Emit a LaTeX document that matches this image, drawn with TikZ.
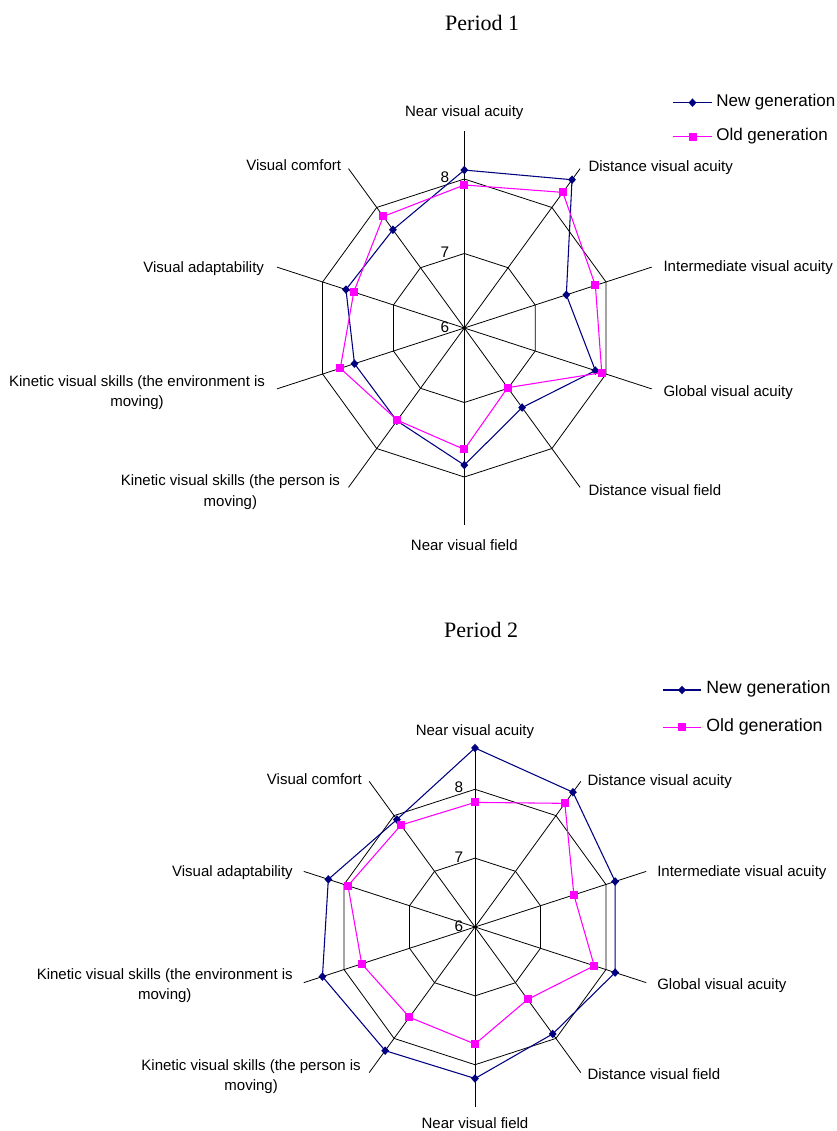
\documentclass[tikz,border=0pt]{standalone}
\usepackage{fontspec}
\setmainfont{Liberation Serif}
\setsansfont{Liberation Sans}
\usepackage{tikz}
\usetikzlibrary{shapes.geometric,calc}
\definecolor{navyblue}{RGB}{0,0,128}
\definecolor{oldmag}{RGB}{255,0,255}

\begin{document}
\begin{tikzpicture}[x=0.75pt,y=0.75pt,
    grid/.style={black, line width=0.6pt},
    newline/.style={navyblue, line width=0.8pt},
    oldline/.style={oldmag, line width=0.8pt},
    newmark/.style={diamond, fill=navyblue, inner sep=0pt, minimum width=6pt, minimum height=6.6pt},
    oldmark/.style={rectangle, fill=oldmag, inner sep=0pt, minimum size=6pt},
    axlabel/.style={font=\sffamily\fontsize{11.25}{15.5}\selectfont, align=center, inner sep=0pt},
    lowlabel/.style={axlabel, yshift=-2.25pt},
    ticklabel/.style={font=\sffamily\fontsize{11.5}{14}\selectfont, inner sep=0pt, anchor=east},
    charttitle/.style={font=\fontsize{16.5}{20}\selectfont, inner sep=0pt},
    legtext/.style={font=\sffamily\fontsize{12.75}{15}\selectfont, anchor=west, inner sep=0pt}]
    \useasboundingbox (0,0) rectangle (837,-1131);

    \node[charttitle] (title1) at (482.2,-22.5) {Period 1};
    \node[charttitle] (title2) at (481.2,-630) {Period 2};

    \coordinate (lga1) at (673,-102.7);
    \coordinate (lga2) at (712,-102.7);
    \coordinate (lga3) at (673,-136.7);
    \coordinate (lga4) at (712,-136.7);
    \draw[newline] (lga1) -- (lga2);
    \node[newmark] (lgman) at ($(lga1)!0.5!(lga2)$) {};
    \node[legtext] (lgatxt1) at (716,-102) {New generation};
    \draw[oldline] (lga3) -- (lga4);
    \node[oldmark] (lgamo) at ($(lga3)!0.5!(lga4)$) {};
    \node[legtext] (lgatxt2) at (716,-136) {Old generation};

    \coordinate (lgb1) at (663,-690);
    \coordinate (lgb2) at (701,-690);
    \coordinate (lgb3) at (663,-727.3);
    \coordinate (lgb4) at (701,-727.3);
    \draw[newline] (lgb1) -- (lgb2);
    \node[newmark] (lgbmn) at ($(lgb1)!0.5!(lgb2)$) {};
    \node[legtext, font=\sffamily\fontsize{13.3}{15}\selectfont] (lgbtxt1) at (706,-689) {New generation};
    \draw[oldline] (lgb3) -- (lgb4);
    \node[oldmark] (lgbmo) at ($(lgb3)!0.5!(lgb4)$) {};
    \node[legtext, font=\sffamily\fontsize{13.3}{15}\selectfont] (lgbtxt2) at (706,-726.5) {Old generation};

    \begin{scope}[shift={(464.3,-328)}]
        \foreach \k in {0,...,9} \draw[grid] (0,0) -- ({90-36*\k}:197);
        \foreach \r in {74.5,149} \draw[grid] (90:\r) \foreach \k in {1,...,9} {-- ({90-36*\k}:\r)} -- cycle;
        \node[ticklabel] (ta6) at (-15,0.5) {6};
        \node[ticklabel] (ta7) at (-15,76) {7};
        \node[ticklabel] (ta8) at (-15,151) {8};
        \node[lowlabel] (la0) at (0,218) {Near visual acuity};
        \node[lowlabel, anchor=west] (la1) at (124,163) {Distance visual acuity};
        \node[lowlabel, anchor=west] (la2) at (199,63) {Intermediate visual acuity};
        \node[lowlabel, anchor=west] (la3) at (199,-62) {Global visual acuity};
        \node[axlabel, anchor=west] (la4) at (124,-162) {Distance visual field};
        \node[axlabel] (la5) at (0,-217) {Near visual field};
        \node[lowlabel, anchor=east] (la6) at (-124,-161) {Kinetic visual skills (the person is\\moving)};
        \node[lowlabel, anchor=east] (la7) at (-199,-61.5) {Kinetic visual skills (the environment is\\moving)};
        \node[lowlabel, anchor=east] (la8) at (-200,62) {Visual adaptability};
        \node[axlabel, anchor=east] (la9) at (-123,163) {Visual comfort};
        \foreach \v [count=\k from 0] in {8.12,8.46,7.44,7.85,7.32,7.84,7.54,7.55,7.67,7.63}
            \coordinate (an\k) at ({90-36*\k}:{(\v-6)*74.5});
        \foreach \v [count=\k from 0] in {7.92,8.25,7.85,7.94,6.99,7.63,7.53,7.75,7.56,7.85}
            \coordinate (ao\k) at ({90-36*\k}:{(\v-6)*74.5});
        \draw[newline] (an0) \foreach \k in {1,...,9} {-- (an\k)} -- cycle;
        \foreach \k in {0,...,9} \node[newmark] (man\k) at (an\k) {};
        \draw[oldline] (ao0) \foreach \k in {1,...,9} {-- (ao\k)} -- cycle;
        \foreach \k in {0,...,9} \node[oldmark] (mao\k) at (ao\k) {};
    \end{scope}

    \begin{scope}[shift={(475,-927)}]
        \foreach \k in {0,...,9} \draw[grid] (0,0) -- ({90-36*\k}:180);
        \foreach \r in {68.85,137.7} \draw[grid] (90:\r) \foreach \k in {1,...,9} {-- ({90-36*\k}:\r)} -- cycle;
        \node[ticklabel] (tb6) at (-11.5,1) {6};
        \node[ticklabel] (tb7) at (-11.5,69.5) {7};
        \node[ticklabel] (tb8) at (-11.5,140) {8};
        \node[lowlabel] (lb0) at (0,198.7) {Near visual acuity};
        \node[lowlabel, anchor=west] (lb1) at (112.3,148) {Distance visual acuity};
        \node[lowlabel, anchor=west] (lb2) at (182,57) {Intermediate visual acuity};
        \node[lowlabel, anchor=west] (lb3) at (182,-56) {Global visual acuity};
        \node[axlabel, anchor=west] (lb4) at (112.3,-147) {Distance visual field};
        \node[axlabel] (lb5) at (0,-196.3) {Near visual field};
        \node[lowlabel, anchor=east] (lb6) at (-114,-146.5) {Kinetic visual skills (the person is\\moving)};
        \node[lowlabel, anchor=east] (lb7) at (-182,-55.5) {Kinetic visual skills (the environment is\\moving)};
        \node[lowlabel, anchor=east] (lb8) at (-182,57) {Visual adaptability};
        \node[axlabel, anchor=east] (lb9) at (-113,148) {Visual comfort};
        \foreach \v [count=\k from 0] in {8.60,8.42,8.14,8.14,7.92,8.20,8.22,8.33,8.24,7.93}
            \coordinate (bn\k) at ({90-36*\k}:{(\v-6)*68.85});
        \foreach \v [count=\k from 0] in {7.81,8.22,7.51,7.82,7.30,7.70,7.62,7.73,7.94,7.83}
            \coordinate (bo\k) at ({90-36*\k}:{(\v-6)*68.85});
        \draw[newline] (bn0) \foreach \k in {1,...,9} {-- (bn\k)} -- cycle;
        \foreach \k in {0,...,9} \node[newmark] (mbn\k) at (bn\k) {};
        \draw[oldline] (bo0) \foreach \k in {1,...,9} {-- (bo\k)} -- cycle;
        \foreach \k in {0,...,9} \node[oldmark] (mbo\k) at (bo\k) {};
    \end{scope}
\end{tikzpicture}
\end{document}
